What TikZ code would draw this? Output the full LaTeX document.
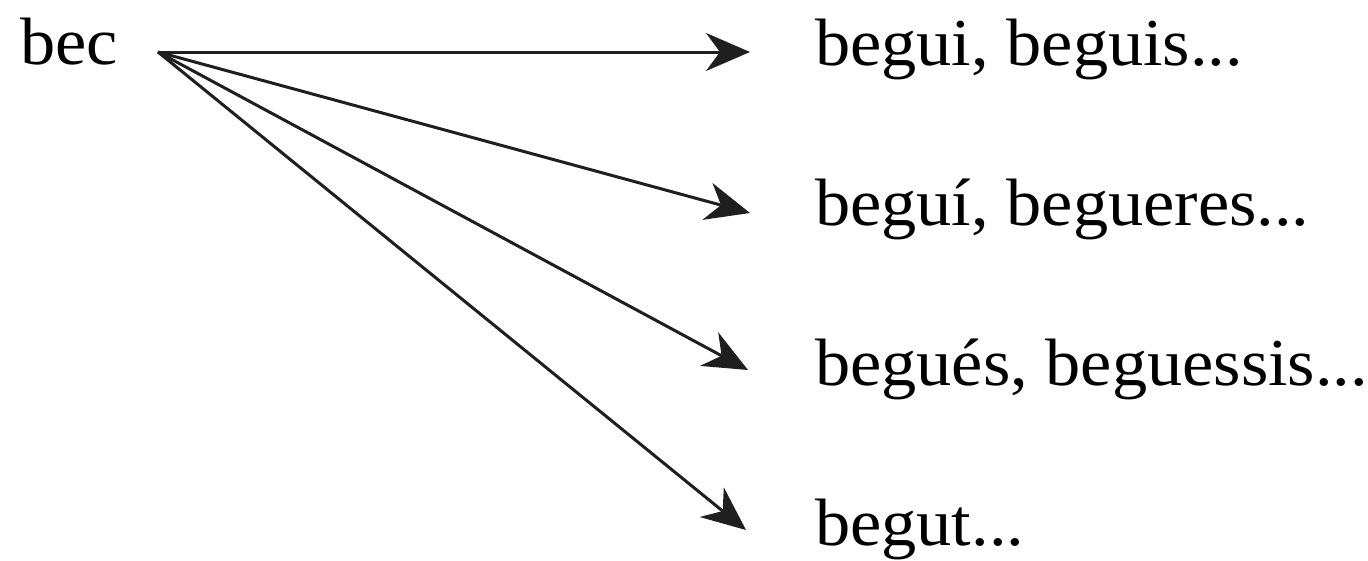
\documentclass[tikz,border=0pt]{standalone}
\usepackage{fontspec}
\setmainfont{Liberation Serif}[FakeStretch=1.05]
\usetikzlibrary{arrows.meta}
\begin{document}
\begin{tikzpicture}[x=1pt,y=-1pt,
  lbl/.style={anchor=base west,inner sep=0pt,font=\fontsize{67}{72}\selectfont},
  arr/.style={line width=3pt,-{Stealth[length=44pt,width=38pt,inset=14pt]},color=black!88}]
\useasboundingbox (0,0) rectangle (1368,560);
\node[lbl] (bec) at (20,64) {bec};
\coordinate (s) at (158,52);
\node[lbl] (t1) at (815,65) {begui, beguis...};
\node[lbl] (t2) at (815,225) {beguí, begueres...};
\node[lbl] (t3) at (815,385) {begués, beguessis...};
\node[lbl] (t4) at (815,545) {begut...};
\coordinate (e1) at (750,52);
\coordinate (e2) at (750,213);
\coordinate (e3) at (748,370);
\coordinate (e4) at (746,530);
\draw[arr] (s) -- (e1);
\draw[arr] (s) -- (e2);
\draw[arr] (s) -- (e3);
\draw[arr] (s) -- (e4);
\end{tikzpicture}
\end{document}
